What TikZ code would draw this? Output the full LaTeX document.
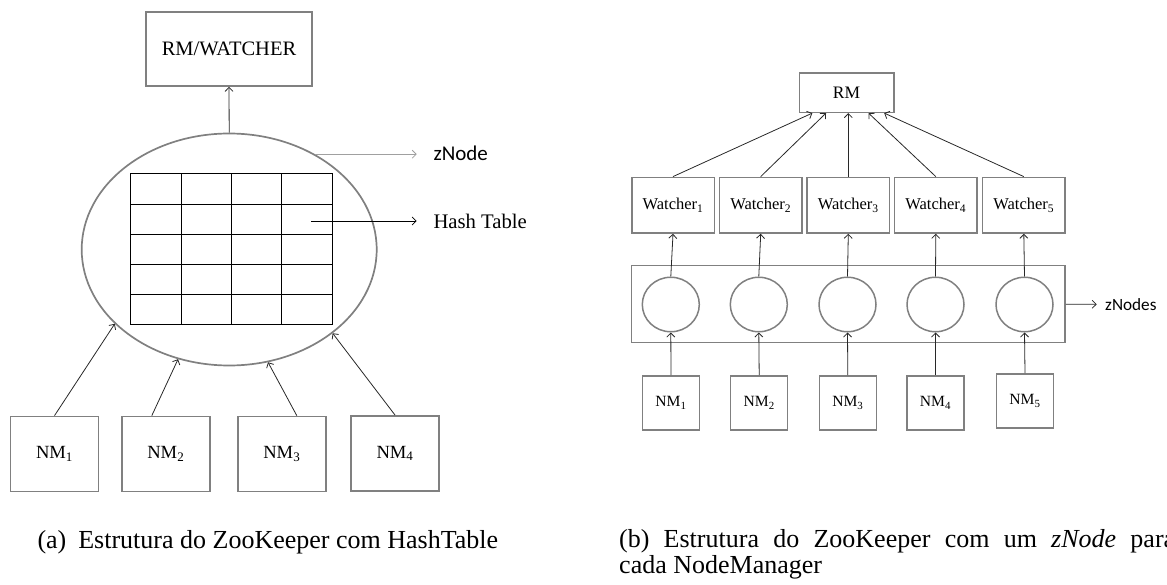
\documentclass[tikz,border=0pt]{standalone}
\usepackage{fontspec}
\setmainfont{Liberation Serif}
\newfontfamily\calib{Carlito}
\usetikzlibrary{arrows.meta,shapes.geometric,calc}
\definecolor{boxgray}{RGB}{128,128,128}
\definecolor{arrgray}{RGB}{40,40,40}
\definecolor{lightarr}{RGB}{160,160,160}
\begin{document}
\begin{tikzpicture}[x=1pt,y=-1pt,
  gbox/.style={draw=boxgray, line width=1.7pt, fill=white, inner sep=0pt},
  arr/.style={draw=arrgray, line width=0.8pt, -{Straight Barb[length=4pt,width=8pt]}},
  gridline/.style={draw=black, line width=0.9pt},
  fL/.style={font=\fontsize{18.6}{20}\selectfont},
  fR/.style={font=\fontsize{15.6}{17}\selectfont},
  zcirc/.style={draw=boxgray, line width=1.5pt, ellipse, inner sep=0pt, minimum width=57pt, minimum height=54.5pt},
  lbl/.style={anchor=west, inner sep=0pt},
  captxt/.style={anchor=base west, inner sep=0pt, font=\fontsize{26}{28}\selectfont}
]
\useasboundingbox (0,0) rectangle (1167,585);

% ---------- (a) ----------
\node[gbox, minimum width=166pt, minimum height=74pt, font=\fontsize{20.5}{22}\selectfont] (rmw) at (229,49) {RM/WATCHER};
\node[draw=boxgray, line width=1.7pt, ellipse, inner sep=0pt, minimum width=295pt, minimum height=232pt] (ell) at (229.2,249.5) {};
\node[draw=black, line width=0.9pt, inner sep=0pt, minimum width=201.6pt, minimum height=150.3pt] (ht) at (231.5,248.85) {};
\foreach \x in {181.3,231.7,281.7} \draw[gridline] (\x,173.7) -- (\x,324);
\foreach \y in {204,234,264,294} \draw[gridline] (130.7,\y) -- (332.3,\y);

\node[gbox, fL, minimum width=88pt, minimum height=75pt] (nm1) at (54.5,454) {NM\textsubscript{1}};
\node[gbox, fL, minimum width=88pt, minimum height=75pt] (nm2) at (165.8,454) {NM\textsubscript{2}};
\node[gbox, fL, minimum width=88pt, minimum height=75pt] (nm3) at (281.8,454) {NM\textsubscript{3}};
\node[gbox, fL, minimum width=88pt, minimum height=75pt] (nm4) at (395,453.4) {NM\textsubscript{4}};

\node[lbl, font=\calib\fontsize{21}{23}\selectfont] (znl) at (433.3,153.3) {zNode};
\node[lbl, font=\fontsize{20.7}{22}\selectfont] (htl) at (433.3,221) {Hash Table};
\coordinate (hts) at (311,221);

\draw[arr] (ell.north) -- (rmw.south);
\draw[arr, draw=lightarr] (ell.48.5) -- ($(ell.48.5 -| znl.west)+(-16.6,0)$);
\draw[arr, draw=black] (hts) -- ($(htl.west)+(-16.6,0)$);
\draw[arr] (nm1.north) -- (ell.213.4);
\draw[arr] ($(nm2.north)+(-14,0)$) -- (ell.245.4);
\draw[arr] ($(nm3.north)+(15,0)$) -- (ell.289.5);
\draw[arr] (nm4.north) -- (ell.321.7);

% ---------- (b) ----------
\node[gbox, minimum width=94.5pt, minimum height=39.3pt, font=\fontsize{17.5}{19}\selectfont, line width=1.5pt] (rm) at (846.5,92.7) {RM};
\foreach \i/\x in {1/673,2/760.7,3/848.3,4/935.8,5/1023.8}
  \node[gbox, line width=1.5pt, minimum width=82.5pt, minimum height=55.7pt, font=\fontsize{16.5}{18}\selectfont] (w\i) at (\x,205.2) {Watcher\textsubscript{\i}};
\node[gbox, line width=1.5pt, minimum width=433.3pt, minimum height=77pt] (cont) at (848.35,304.2) {};
\foreach \i/\x in {1/670.8,2/758.8,3/847.5,4/935.5,5/1024.5}
  \node[zcirc] (c\i) at (\x,304.5) {};
\foreach \i/\x in {1/671,2/759.2,3/847.8,4/935.5}
  \node[gbox, line width=1.5pt, fR, minimum width=57pt, minimum height=54.3pt] (n\i) at (\x,403) {NM\textsubscript{\i}};
\node[gbox, line width=1.5pt, fR, minimum width=57pt, minimum height=54.3pt] (n5) at (1025,401) {NM\textsubscript{5}};

\foreach \i in {1,...,5} {
  \draw[arr] (n\i.north) -- (c\i.south);
  \draw[arr] (c\i.north) -- (w\i.south);
}
\draw[arr] (w1.north) -- ($(rm.south)+(-34.2,0)$);
\draw[arr] (w2.north) -- ($(rm.south)+(-20.5,0)$);
\draw[arr] (w3.north) -- (w3.north |- rm.south);
\draw[arr] (w4.north) -- ($(rm.south)+(22,0)$);
\draw[arr] (w5.north) -- ($(rm.south)+(37.7,0)$);

\node[lbl, font=\calib\fontsize{17.2}{19}\selectfont] (zns) at (1105,304.3) {zNodes};
\draw[arr] (cont.east) -- ($(zns.west)+(-8.3,0)$);

% ---------- captions ----------
\node[captxt] (capa) at (37.3,548.3) {(a)\hspace{12pt}Estrutura do ZooKeeper com HashTable};
\node[captxt] (capb1) at (619,547.7) {\makebox[556pt][s]{(b) Estrutura do ZooKeeper com um \textit{zNode} para}};
\node[captxt] (capb2) at (619,573.3) {cada NodeManager};
\end{tikzpicture}
\end{document}
